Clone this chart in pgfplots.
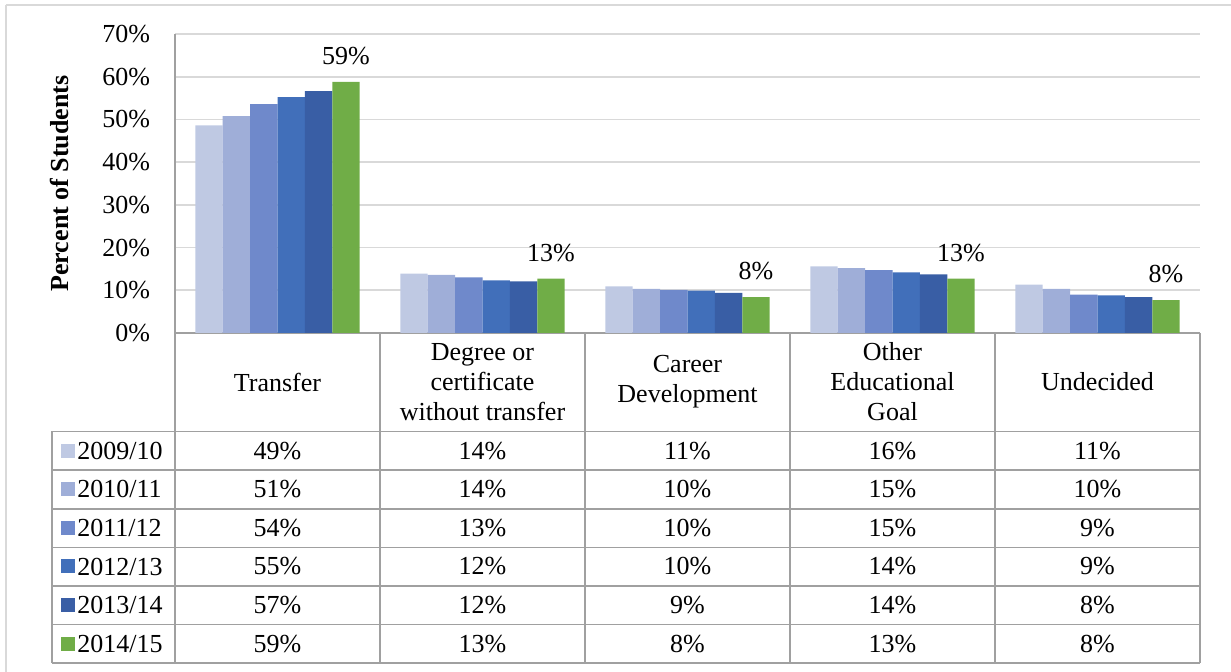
\documentclass[border=0pt]{standalone}
\usepackage{fontspec}
\setmainfont{Liberation Serif}
\usepackage{pgfplots}
\pgfplotsset{compat=1.18}
\definecolor{cA}{RGB}{191,201,227}
\definecolor{cB}{RGB}{159,174,216}
\definecolor{cC}{RGB}{111,137,203}
\definecolor{cD}{RGB}{65,111,186}
\definecolor{cE}{RGB}{57,94,165}
\definecolor{cF}{RGB}{112,173,71}
\definecolor{gridc}{RGB}{217,217,217}
\definecolor{linec}{RGB}{160,160,160}
\newcommand{\tf}{\fontsize{13}{15}\selectfont}
\begin{document}
\tf
\begin{tikzpicture}
\begin{axis}[
  at={(0,0)}, anchor=south west,
  scale only axis, width=512.5pt, height=149.5pt,
  xmin=0, xmax=5, ymin=0, ymax=70,
  enlargelimits=false,
  ybar=0pt, bar width=0.1337,
  ytick={0,10,...,70},
  yticklabel={\pgfmathprintnumber{\tick}\%},
  /pgf/number format/assume math mode=true,
  yticklabel style={font=\tf, xshift=-8pt},
  xtick=\empty,
  major tick length=0pt,
  ymajorgrids, grid style={gridc, line width=0.9pt},
  axis lines*=left,
  axis line style={linec, line width=0.9pt},
  ylabel={\textbf{Percent of Students}},
  ylabel style={font=\tf, at={(axis description cs:-0.1122,0.5)}, anchor=center},
  clip=false,
]
\addplot[fill=cA, draw=none] coordinates {(0.5,48.6) (1.5,13.9) (2.5,10.9) (3.5,15.6) (4.5,11.3)};
\addplot[fill=cB, draw=none] coordinates {(0.5,50.8) (1.5,13.6) (2.5,10.3) (3.5,15.2) (4.5,10.3)};
\addplot[fill=cC, draw=none] coordinates {(0.5,53.6) (1.5,13.0) (2.5,10.1) (3.5,14.7) (4.5,9.0)};
\addplot[fill=cD, draw=none] coordinates {(0.5,55.2) (1.5,12.3) (2.5,9.9) (3.5,14.2) (4.5,8.8)};
\addplot[fill=cE, draw=none] coordinates {(0.5,56.6) (1.5,12.1) (2.5,9.4) (3.5,13.7) (4.5,8.4)};
\addplot[fill=cF, draw=none,
  nodes near coords={\pgfmathprintnumber[fixed,precision=0]{\pgfplotspointmeta}\%},
  nodes near coords style={font=\tf, text=black, yshift=4pt}]
  coordinates {(0.5,58.8) (1.5,12.7) (2.5,8.4) (3.5,12.7) (4.5,7.7)};
\end{axis}
\begin{scope}[x=0.5pt, y=-0.5pt, shift={(-87.5pt,166.5pt)}]
  % outer frame
  \draw[gridc, line width=1pt] (6,5) -- (1245,5);
  \draw[gridc, line width=1pt] (6,5) -- (6,690);
  % table grid
  \foreach \yy in {431.5,470,509,547.5,586,624.5,663}
    \draw[linec, line width=0.9pt] (52,\yy) -- (1200,\yy);
  \foreach \xx in {175,380,585,790,995,1200}
    \draw[linec, line width=0.9pt] (\xx,333) -- (\xx,663);
  \draw[linec, line width=0.9pt] (52,431.5) -- (52,663);
  % header texts
  \node[font=\tf, align=center] at (277.5,382) {Transfer};
  \node[font=\tf, align=center] at (482.5,382) {Degree or\\certificate\\without transfer};
  \node[font=\tf, align=center] at (687.5,382) {Career\\Development};
  \node[font=\tf, align=center] at (892.5,382) {Other\\Educational\\Goal};
  \node[font=\tf, align=center] at (1097.5,382) {Undecided};
  % legend column
  \foreach \c/\lab [count=\i from 0] in {cA/2009\slash10, cB/2010\slash11, cC/2011\slash12, cD/2012\slash13, cE/2013\slash14, cF/2014\slash15}{
    \pgfmathsetmacro{\yc}{450.75+38.58*\i}
    \fill[\c] (61,\yc-7) rectangle (75,\yc+7);
    \node[font=\tf, anchor=west, inner sep=0pt] at (77,\yc) {\lab};
  }
  % data values
  \foreach \r [count=\i from 0] in {{49,14,11,16,11},{51,14,10,15,10},{54,13,10,15,9},{55,12,10,14,9},{57,12,9,14,8},{59,13,8,13,8}}{
    \pgfmathsetmacro{\yc}{450.75+38.58*\i}
    \foreach \v [count=\j from 0] in \r {
      \node[font=\tf] at (277.5+205*\j,\yc) {\v\%};
    }
  }
\end{scope}
\pgfresetboundingbox
\path[use as bounding box] (-87.5pt,-169.5pt) rectangle (528pt,166.5pt);
\end{tikzpicture}
\end{document}
